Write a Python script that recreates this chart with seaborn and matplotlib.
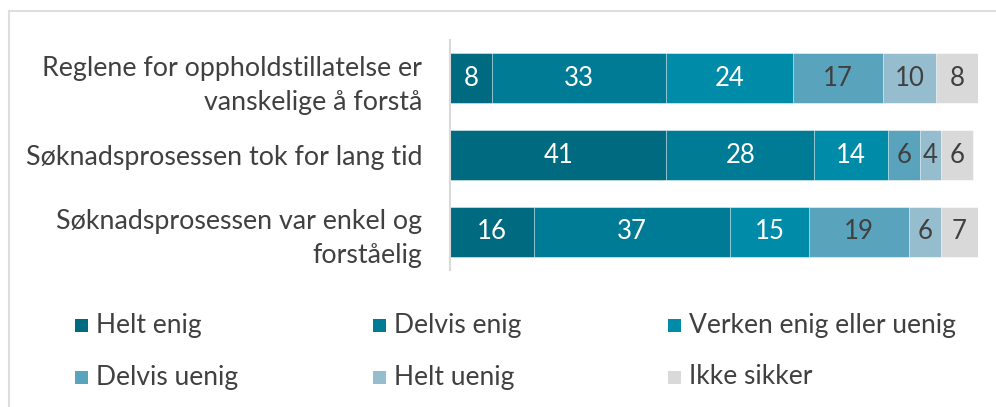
import matplotlib
matplotlib.use("Agg")
import matplotlib.pyplot as plt
from matplotlib.patches import Rectangle
from matplotlib.lines import Line2D
import seaborn as sns
import numpy as np
import pandas as pd

categories = [
    "Reglene for oppholdstillatelse er\nvanskelige å forstå",
    "Søknadsprosessen tok for lang tid",
    "Søknadsprosessen var enkel og\nforståelig",
]
series_names = ["Helt enig", "Delvis enig", "Verken enig eller uenig",
                "Delvis uenig", "Helt uenig", "Ikke sikker"]
helt_enig = [8, 41, 16]
delvis_enig = [33, 28, 37]
verken = [24, 14, 15]
delvis_uenig = [17, 6, 19]
helt_uenig = [10, 4, 6]
ikke_sikker = [8, 6, 7]

colors = ["#006a80", "#007b95", "#008ba9", "#5aa3bc", "#95bdce", "#d9d9d9"]
text_colors = ["white", "white", "white", "#404040", "#404040", "#404040"]

sns.set_theme(style="white")
FONT = ["Lato", "DejaVu Sans"]
plt.rcParams["font.family"] = FONT

vals = np.array([helt_enig, delvis_enig, verken, delvis_uenig, helt_uenig, ikke_sikker])
cum = np.cumsum(vals, axis=0)

fig = plt.figure(figsize=(9.96, 4.07), dpi=100)
ax = fig.add_axes([450 / 996, 1 - 270 / 407, (978 - 450) / 996, 230 / 407])

for i in reversed(range(len(series_names))):
    df = pd.DataFrame({"cat": categories, "val": cum[i]})
    sns.barplot(data=df, x="val", y="cat", orient="h", color=colors[i],
                width=0.65, ax=ax, saturation=1, edgecolor="#ffffff",
                linewidth=0.4)

for i in range(len(series_names)):
    for j in range(len(categories)):
        start = cum[i, j] - vals[i, j]
        ax.text(start + vals[i, j] / 2, j, str(vals[i, j]), ha="center",
                va="center", color=text_colors[i], fontsize=18.5,
                family=FONT)

ax.set_xlim(0, 100)
ax.set_ylim(2.5, -0.5)
ax.set_xlabel("")
ax.set_ylabel("")
ax.set_xticks([])
for s in ["top", "right", "bottom"]:
    ax.spines[s].set_visible(False)
ax.spines["left"].set_color("#d9d9d9")
ax.spines["left"].set_linewidth(1.5)
ax.tick_params(axis="y", length=0, pad=20, labelsize=19.3, labelcolor="#404040")
for lbl in ax.get_yticklabels():
    lbl.set_linespacing(1.45)
    lbl.set_multialignment("right")

# legend
col_x = [75, 373, 668]
row_y = [325, 377]
W, H = 996, 407
for k, name in enumerate(series_names):
    r, c = divmod(k, 3)
    x0 = col_x[c]
    y0 = row_y[r]
    fig.add_artist(Rectangle((x0 / W, 1 - (y0 + 7) / H), 13 / W, 13 / H,
                             transform=fig.transFigure, facecolor=colors[k],
                             edgecolor="none"))
    fig.text((x0 + 21) / W, 1 - y0 / H, name, ha="left", va="center",
             fontsize=19, color="#404040", family=FONT)

# frame lines
fig.add_artist(Line2D([9 / W, 1], [1 - 11 / H, 1 - 11 / H], color="#dedede",
                      linewidth=1.5, transform=fig.transFigure))
fig.add_artist(Line2D([9 / W, 9 / W], [0, 1 - 11 / H], color="#dedede",
                      linewidth=1.5, transform=fig.transFigure))

fig.savefig("out.png", dpi=100)
